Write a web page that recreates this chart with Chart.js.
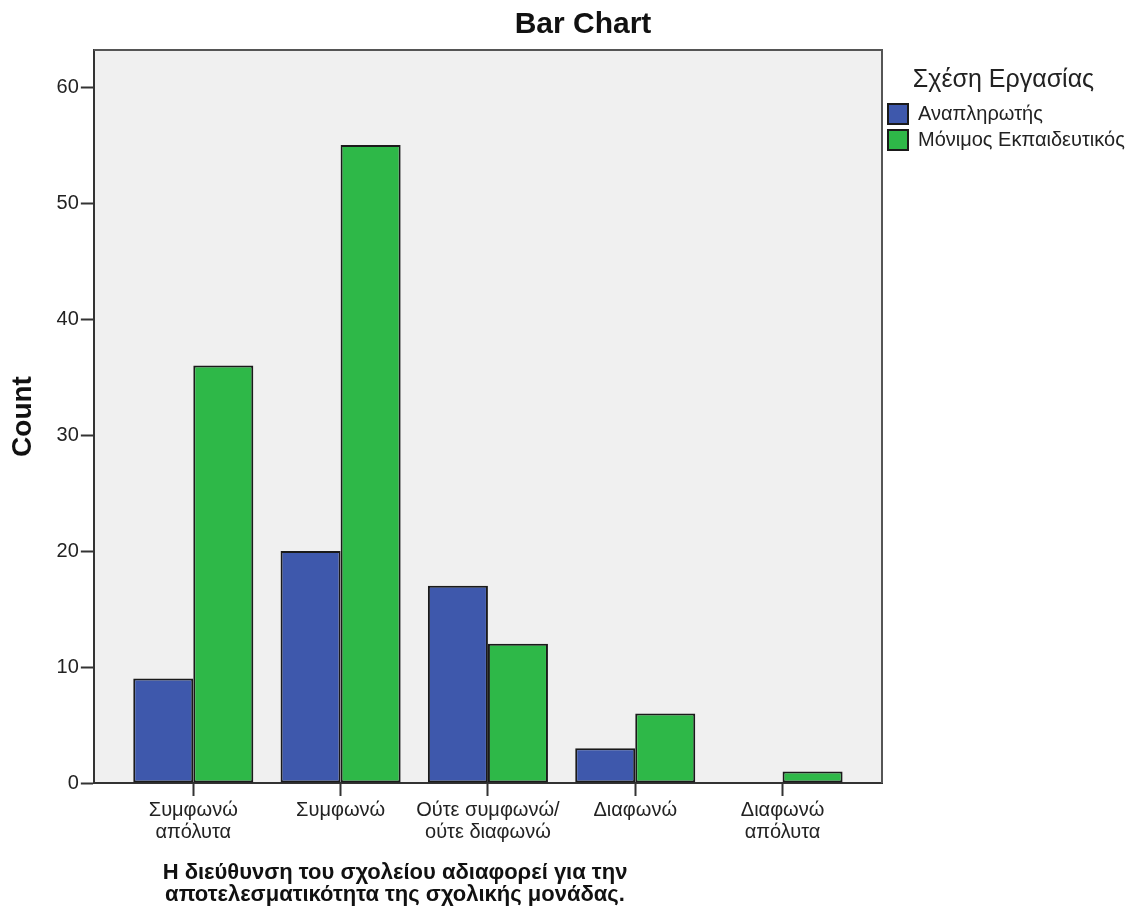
<!DOCTYPE html>
<html>
<head>
<meta charset="utf-8">
<title>Bar Chart</title>
<script src="https://cdn.jsdelivr.net/npm/chart.js@4.4.1/dist/chart.umd.min.js"></script>
<style>
    html, body { margin: 0; padding: 0; background: #ffffff; }
    #wrap { width: 1125px; height: 918px; position: relative; }
</style>
</head>
<body>
<div id="wrap"><canvas id="barChart" width="1125" height="918"></canvas></div>

<script>
// ===== Data =====
const categories = [
    ["Συμφωνώ", "απόλυτα"],
    ["Συμφωνώ"],
    ["Ούτε συμφωνώ/", "ούτε διαφωνώ"],
    ["Διαφωνώ"],
    ["Διαφωνώ", "απόλυτα"]
];
const substituteCounts = [9, 20, 17, 3, 0];   // Αναπληρωτής
const permanentCounts = [36, 55, 12, 6, 1];   // Μόνιμος Εκπαιδευτικός
const countTicks = [0, 10, 20, 30, 40, 50, 60];

const chartTitle = "Bar Chart";
const xTitle = [
    "Η διεύθυνση του σχολείου αδιαφορεί για την",
    "αποτελεσματικότητα της σχολικής μονάδας."
];

const FONT = "'Liberation Sans', Arial, sans-serif";

// ===============================
// BACKGROUND, FRAME AND TITLES
// ===============================
const spssFrame = {
    id: "spssFrame",
    beforeDraw(chart) {
        const { ctx, chartArea: a } = chart;
        ctx.save();
        ctx.fillStyle = "#f0f0f0";
        ctx.fillRect(a.left, a.top, a.right - a.left, a.bottom - a.top);
        ctx.restore();
    },
    afterDraw(chart) {
        const { ctx, chartArea: a } = chart;
        ctx.save();
        // top + right edge of the plot frame
        ctx.strokeStyle = "#555";
        ctx.lineWidth = 2;
        ctx.beginPath();
        ctx.moveTo(a.left, a.top);
        ctx.lineTo(a.right, a.top);
        ctx.lineTo(a.right, a.bottom);
        ctx.stroke();

        ctx.fillStyle = "#111";
        ctx.textAlign = "center";
        ctx.textBaseline = "middle";

        ctx.font = "bold 30px " + FONT;
        ctx.fillText(chartTitle, 583, 25);

        ctx.font = "bold 22px " + FONT;
        xTitle.forEach((line, i) => {
            ctx.fillText(line, 395, 873 + i * 22);
        });
        ctx.restore();
    }
};

// ===============================
// CHART
// ===============================
const ctx = document.getElementById("barChart").getContext("2d");

new Chart(ctx, {
    type: "bar",
    data: {
        datasets: [
            {
                label: "Αναπληρωτής",
                data: substituteCounts.map((v, i) => ({ x: i, y: v })),
                backgroundColor: "#3e58ac",
                borderColor: "#1a1a1a",
                borderWidth: 2,
                borderSkipped: false
            },
            {
                label: "Μόνιμος Εκπαιδευτικός",
                data: permanentCounts.map((v, i) => ({ x: i, y: v })),
                backgroundColor: "#2eb848",
                borderColor: "#1a1a1a",
                borderWidth: 2,
                borderSkipped: false
            }
        ]
    },
    options: {
        responsive: false,
        animation: false,
        categoryPercentage: 0.815,
        barPercentage: 1,
        layout: {
            padding: { top: 50, bottom: 72, left: 0, right: 0 }
        },
        plugins: {
            tooltip: { enabled: false },
            title: { display: false },
            legend: {
                position: "right",
                align: "start",
                maxWidth: 243,
                title: {
                    display: true,
                    text: "Σχέση Εργασίας",
                    position: "center",
                    color: "#222",
                    font: { family: FONT, size: 25 },
                    padding: { top: 18, bottom: 0 }
                },
                labels: {
                    boxWidth: 20,
                    boxHeight: 20,
                    padding: 6,
                    color: "#222",
                    font: { family: FONT, size: 20 }
                }
            }
        },
        scales: {
            x: {
                type: "linear",
                min: -0.675,
                max: 4.675,
                offset: false,
                afterBuildTicks: axis => {
                    axis.ticks = categories.map((c, i) => ({ value: i }));
                },
                ticks: {
                    color: "#222",
                    padding: 3,
                    maxRotation: 0,
                    autoSkip: false,
                    font: { family: FONT, size: 20, lineHeight: 1.1 },
                    callback: value => categories[value] || ""
                },
                grid: {
                    offset: false,
                    drawOnChartArea: false,
                    drawTicks: true,
                    tickLength: 13,
                    tickColor: "#333",
                    tickWidth: 2
                },
                border: { display: true, color: "#333", width: 2 }
            },
            y: {
                min: 0,
                max: 63.2,
                afterBuildTicks: axis => {
                    axis.ticks = countTicks.map(v => ({ value: v }));
                },
                ticks: {
                    color: "#222",
                    padding: 2,
                    font: { family: FONT, size: 20 }
                },
                grid: {
                    drawOnChartArea: false,
                    drawTicks: true,
                    tickLength: 13,
                    tickColor: "#333",
                    tickWidth: 2
                },
                border: { display: true, color: "#333", width: 2 },
                title: {
                    display: true,
                    text: "Count",
                    color: "#111",
                    font: { family: FONT, size: 28, weight: "bold" },
                    padding: { top: 6, bottom: 15 }
                }
            }
        }
    },
    plugins: [spssFrame]
});
</script>
</body>
</html>
